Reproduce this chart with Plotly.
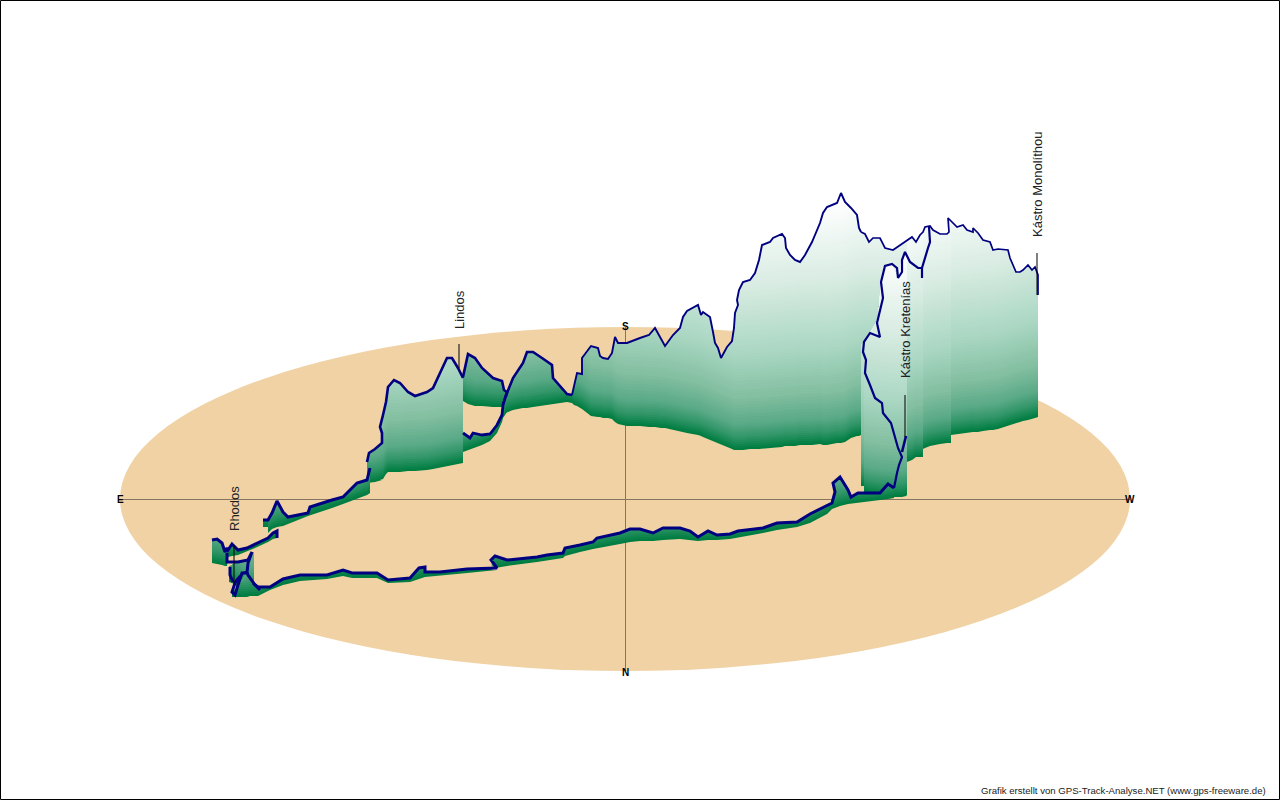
import numpy as np
import plotly.graph_objects as go

# Walls, painted back to front: track position, track top, ground base (picture units)
south_x = [572,574,577,582,582,585,591,598,600,603,608,612,615,618,627,640,649,655,661,665,673,680,683,687,698,701,703,710,713,715,718,721,727,732,734,735,738,737,739,743,750,755,759,762,770,773,782,785,786,790,795,800,805,812,820,823,827,837,841,845,851,857,859,861]
south_top = [395,387,373,374,358,354,346,348,356,358,359,353,337,343,343,338,335,328,338,346,335,328,317,311,305,315,312,317,332,343,348,358,347,341,328,313,305,300,290,282,280,273,260,245,242,238,234,238,248,255,260,262,255,242,223,213,207,203,193,202,208,215,228,232]
south_base = [403,405,406,409,409,411,416,417,417,418,418,419,422,424,426,426,427,427,428,428,430,431,432,433,435,436,437,440,441,442,443,445,447,449,450,450,450,450,450,450,449,449,449,449,448,448,447,446,446,446,446,445,445,445,444,445,445,443,443,442,438,436,436,435]

west_x = [861,865,869,873,880,885,893,900,907,907,912,916,920,923,923,925,930,933,940,947,949,948,951,951,953,957,963,967,973,973,978,983,990,993,998,1008,1010,1016,1020,1023,1028,1032,1035,1038,1038]
west_top = [232,234,242,238,238,248,250,245,240,240,237,242,235,232,232,227,226,230,234,234,232,218,221,221,223,227,225,230,232,228,233,240,242,250,249,250,258,272,272,270,265,270,267,275,295]
west_base = [435,434,434,434,434,434,434,434,434,462,460,457,457,457,449,448,446,445,444,443,443,443,443,435,435,434,433,433,432,432,432,431,430,430,429,426,425,423,422,421,420,419,418,417,417]

tower_x = [861,864,864,870,878,881,885,892,898,902,906,907]
tower_top = [345,342,342,333,318,283,265,265,278,258,252,252]
tower_base = [486,486,492,494,495,496,496,497,497,497,496,495]

ridge_x = [463,468,475,482,493,502,504,507]
ridge_top = [377,354,358,368,378,381,390,392]
ridge_base = [401,404,406,406,407,407,407,407]

mid_x = [503,507,513,523,527,533,542,552,553,560,567,572]
mid_top = [405,393,378,363,352,352,358,365,378,386,394,395]
mid_base = [414,412,410,408,408,407,405,404,404,403,402,403]

lindos_x = [367,369,375,382,382,380,383,386,388,394,400,408,415,427,433,438,447,452,458,463]
lindos_top = [462,453,449,443,433,427,415,402,387,380,383,392,396,392,388,377,358,358,368,378]
lindos_base = [483,483,482,480,480,480,479,474,472,472,472,471,471,470,469,468,466,465,464,463]

gap_x = [463,470,473,482,490,497,502,503,507]
gap_top = [433,438,433,435,434,425,415,405,392]
gap_base = [452,449,448,445,441,433,422,418,412]

east2_x = [263,268,268,272,277,283,288,308,310,332,343,357,367,370]
east2_top = [520,520,520,513,501,512,517,513,507,500,497,483,480,468]
east2_base = [527,527,533,529,527,526,524,516,515,508,504,499,495,493]

east1_x = [212,217,222,225,227,228,232,238,247,255,268,273,277,277]
east1_top = [540,539,543,552,548,550,544,550,548,544,538,533,531,538]
east1_base = [563,564,565,566,566,557,556,555,551,548,542,539,538,539]

cluster_x = [229,232,237,243,248,252,254]
cluster_top = [567,565,562,562,560,552,552]
cluster_base = [582,583,586,590,592,592,592]

hump_x = [232,235,240,247,250,255,258]
hump_top = [592,590,583,572,575,585,587]
hump_base = [597,597,597,597,596,596,596]

coast_x = [253,258,270,283,300,327,343,352,377,388,410,419,425,425,440,467,497,491,495,507,537,547,563,565,580,593,597,620,630,640,653,663,680,690,698,708,717,730,738,763,777,797,810,827,832,835,833,840,848,851,858,880,888,894]
coast_top = [583,587,587,579,575,575,570,573,573,580,578,568,567,572,572,569,568,560,556,560,557,555,553,548,545,542,538,533,529,529,533,528,528,531,537,531,535,534,531,528,523,522,514,505,503,492,483,477,490,497,493,493,484,488]
coast_base = [596,596,590,585,581,579,576,578,578,583,582,579,577,577,576,573,570,570,568,566,562,560,558,556,552,549,548,544,542,541,541,540,539,540,541,540,540,539,537,533,530,527,523,514,509,508,508,506,504,503,502,500,499,498]

# Track sections that carry no wall of their own
spur_x = [929,930,928,925,922,922,922,918,910,905,902,902,898,897,892,885,881,883,878,877,880,870,864,863,866,865,870,875,882,883,891,894,898,902,899,897,894]
spur_y = [227,242,248,258,268,278,268,268,262,252,260,272,278,268,264,266,282,298,318,323,337,333,342,352,360,373,385,398,403,413,423,435,448,457,465,473,488]
branch_x = [902,906]
branch_y = [452,436]
knot_x = [227,227,238,248,252,248,247,242,238,235,232,235,237,243,247,248,255,260]
knot_y = [553,562,562,560,552,563,573,573,585,595,592,583,580,573,572,575,585,590]
knot2_x = [230,230,233]
knot2_y = [567,575,582]

ground_colour = "#F0D2A5"
line_colour = "#000080"

# Height above the ground against wall colour
shade_h = [0, 12, 25, 50, 95, 160, 240]
shade_r = [0, 50, 90, 130, 170, 215, 255]
shade_g = [125, 150, 170, 190, 215, 235, 255]
shade_b = [65, 105, 135, 160, 195, 225, 255]
levels = list(range(0, 30, 2)) + list(range(30, 260, 3))

# Place names with their leader lines
place_names = ["Rhodos", "Lindos", "Kástro Kretenías", "Kástro Monolíthou"]
place_x = [234, 459, 905, 1037]
place_text_y = [509, 310, 330, 184]
leader_x = [234, 459, 905, 1037]
leader_top = [545, 344, 395, 253]
leader_bottom = [583, 368, 437, 295]

compass_names = ["E", "W", "S", "N"]
compass_x = [120, 1130, 625, 625]
compass_y = [499, 499, 326, 672]

fig = go.Figure()


def wall(xs, top, base, width=None):
    xs, top, base = map(np.array, (xs, top, base))
    tallest = (base - top).max()
    for h in levels:
        if h >= tallest:
            break
        lower = np.maximum(base - h, top)
        r = np.interp(h, shade_h, shade_r)
        g = np.interp(h, shade_h, shade_g)
        b = np.interp(h, shade_h, shade_b)
        fig.add_trace(go.Scatter(
            x=np.concatenate([xs, xs[::-1]]), y=np.concatenate([top, lower[::-1]]),
            mode="lines", fill="toself", line=dict(width=0),
            fillcolor=f"rgb({r:.0f},{g:.0f},{b:.0f})",
            hoverinfo="skip", showlegend=False))
    if width:
        track(xs, top, width)


def track(xs, ys, width):
    fig.add_trace(go.Scatter(x=xs, y=ys, mode="lines",
                             line=dict(color=line_colour, width=width),
                             hoverinfo="skip", showlegend=False))


wall(south_x, south_top, south_base, 1.9)
wall(west_x, west_top, west_base, 1.7)
wall(ridge_x, ridge_top, ridge_base, 2.6)
wall(mid_x, mid_top, mid_base, 2.6)
wall(lindos_x, lindos_top, lindos_base, 2.6)
wall(gap_x, gap_top, gap_base, 2.8)
wall(east2_x, east2_top, east2_base, 3)
wall(east1_x, east1_top, east1_base, 3)
wall(tower_x, tower_top, tower_base)
wall(cluster_x, cluster_top, cluster_base)
wall(hump_x, hump_top, hump_base)
wall(coast_x, coast_top, coast_base, 3)
track(spur_x, spur_y, 2.2)
track(branch_x, branch_y, 2.6)
track(knot_x, knot_y, 3)
track(knot2_x, knot2_y, 3)

for lx, t, b in zip(leader_x, leader_top, leader_bottom):
    fig.add_trace(go.Scatter(x=[lx, lx], y=[t, b], mode="lines",
                             line=dict(color="black", width=1),
                             hoverinfo="skip", showlegend=False))

shapes = [
    dict(type="circle", x0=120, x1=1130, y0=327, y1=671, fillcolor=ground_colour,
         line=dict(width=0), layer="below"),
    dict(type="line", x0=120, x1=1130, y0=499.5, y1=499.5,
         line=dict(color="#857560", width=1), layer="below"),
    dict(type="line", x0=625.5, x1=625.5, y0=327, y1=671,
         line=dict(color="#857560", width=1), layer="below"),
    dict(type="rect", x0=0.5, x1=1279.5, y0=0.5, y1=799.5,
         line=dict(color="black", width=1), layer="above"),
]

annotations = []
for name, px, py in zip(place_names, place_x, place_text_y):
    annotations.append(dict(x=px, y=py, text=name, textangle=-90, showarrow=False,
                            font=dict(family="Liberation Sans", size=13, color="#222222")))
for name, px, py in zip(compass_names, compass_x, compass_y):
    annotations.append(dict(x=px, y=py, text=f"<b>{name}</b>", showarrow=False,
                            font=dict(family="Liberation Sans", size=10, color="black")))
annotations.append(dict(x=1268, y=790, xanchor="right",
                        text="Grafik erstellt von GPS-Track-Analyse.NET (www.gps-freeware.de)",
                        showarrow=False,
                        font=dict(family="Liberation Sans", size=9.6, color="#222222")))

fig.update_layout(
    width=1280, height=800, margin=dict(l=0, r=0, t=0, b=0),
    paper_bgcolor="white", plot_bgcolor="white", showlegend=False,
    xaxis=dict(range=[0, 1280], visible=False, fixedrange=True),
    yaxis=dict(range=[800, 0], visible=False, fixedrange=True),
    shapes=shapes, annotations=annotations,
)
fig.write_html("out.html", config={"displayModeBar": False},
               post_script="document.body.style.margin='0';document.documentElement.style.overflow='hidden';")
